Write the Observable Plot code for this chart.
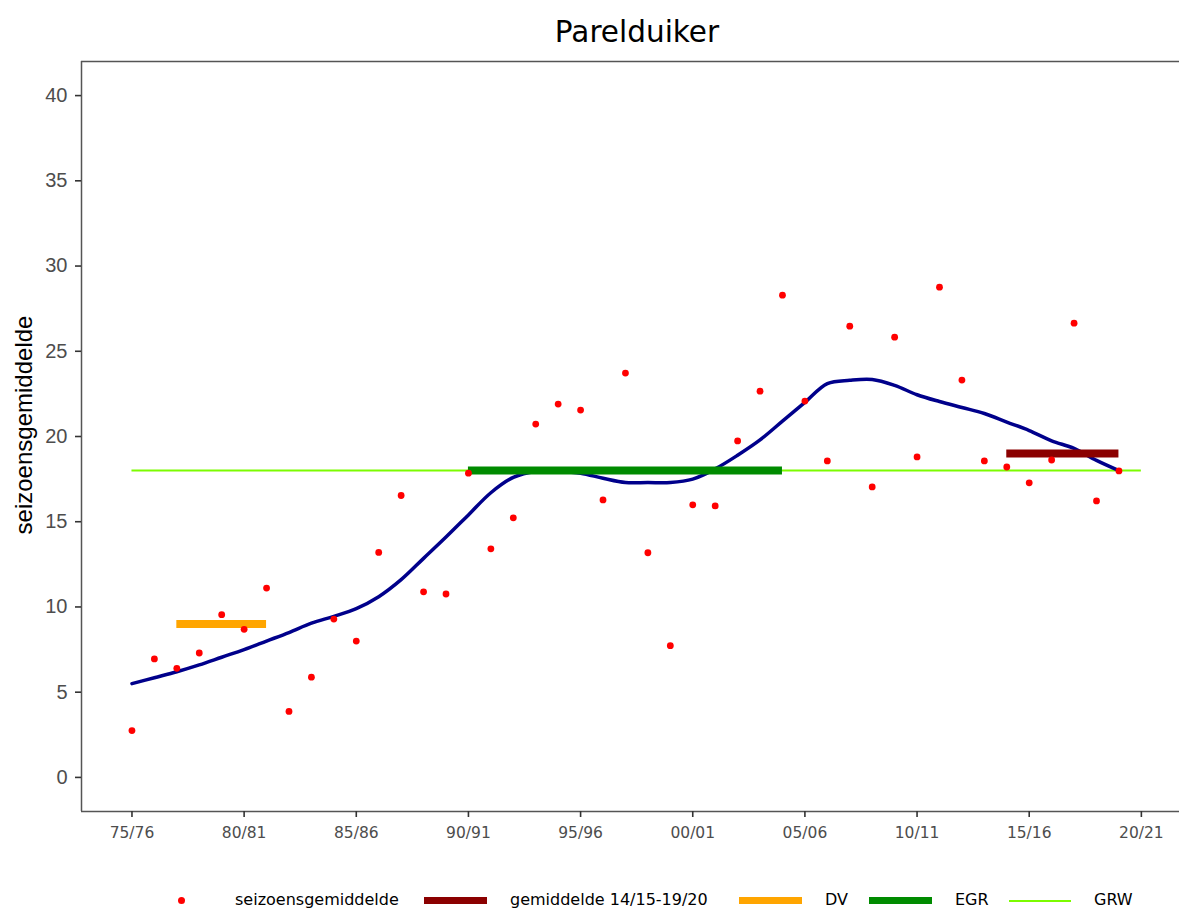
<!DOCTYPE html>
<html>
<head>
<meta charset="utf-8">
<script src="https://cdn.jsdelivr.net/npm/d3@7"></script>
<script src="https://cdn.jsdelivr.net/npm/@observablehq/plot@0.6"></script>
<style>
  html, body { margin: 0; padding: 0; background: #fff; }
  body { width: 1179px; height: 908px; overflow: hidden; position: relative; }
  #chart { position: absolute; left: 0; top: 0; }
  .dj { font-family: "DejaVu Sans", sans-serif; }
  #title { position: absolute; left: 0; top: 12.5px; width: 1274px; text-align: center; font-size: 29.5px; line-height: 38px; color: #000; }
  #ytitle { position: absolute; left: -126px; top: 410px; width: 300px; height: 30px; line-height: 30px; text-align: center;
            font-family: "Liberation Sans", Arial, sans-serif; font-size: 24px; color: #000; transform: rotate(-90deg); }
  .lg { position: absolute; }
  .lgtext { position: absolute; top: 889.5px; font-size: 16px; line-height: 20px; color: #000; white-space: nowrap; }
  g[aria-label="y-axis tick label"] text { fill: #4d4d4d; font-family: "Liberation Sans", Arial, sans-serif; font-size: 20px; }
  g[aria-label="x-axis tick label"] text { fill: #4d4d4d; font-family: "DejaVu Sans", sans-serif; font-size: 15.5px; }
  g[aria-label="y-axis tick"] path, g[aria-label="x-axis tick"] path { stroke: #333; stroke-width: 1.6; }
</style>
</head>
<body>
<div id="chart"></div>
<div id="title" class="dj">Parelduiker</div>
<div id="ytitle">seizoensgemiddelde</div>
<div id="legend"></div>
<script>
// ---- data ----
const seasons = ["75/76","76/77","77/78","78/79","79/80","80/81","81/82","82/83","83/84","84/85",
                 "85/86","86/87","87/88","88/89","89/90","90/91","91/92","92/93","93/94","94/95",
                 "95/96","96/97","97/98","98/99","99/00","00/01","01/02","02/03","03/04","04/05",
                 "05/06","06/07","07/08","08/09","09/10","10/11","11/12","12/13","13/14","14/15",
                 "15/16","16/17","17/18","18/19","19/20"];
const seasonValues = [2.75, 6.95, 6.40, 7.30, 9.55, 8.69, 11.11, 3.87, 5.88, 9.29,
                      8.00, 13.20, 16.54, 10.89, 10.76, 17.85, 13.41, 15.23, 20.73, 21.90,
                      21.55, 16.28, 23.72, 13.18, 7.73, 15.99, 15.93, 19.74, 22.66, 28.29,
                      22.08, 18.57, 26.47, 17.04, 25.83, 18.80, 28.76, 23.31, 18.57, 18.21,
                      17.28, 18.62, 26.65, 16.22, 17.98];
const smoothValues = [5.5, 5.85, 6.2, 6.6, 7.05, 7.5, 8.0, 8.5, 9.05, 9.45,
                      9.9, 10.6, 11.6, 12.85, 14.1, 15.4, 16.7, 17.6, 17.95, 17.95,
                      17.85, 17.55, 17.3, 17.3, 17.3, 17.5, 18.1, 18.9, 19.8, 20.9,
                      22.0, 23.1, 23.3, 23.35, 23.0, 22.45, 22.05, 21.7, 21.35, 20.85,
                      20.35, 19.75, 19.3, 18.6, 18.0];
const tickLabels = ["75/76","80/81","85/86","90/91","95/96","00/01","05/06","10/11","15/16","20/21"];
const tickSeasonIndex = [0, 5, 10, 15, 20, 25, 30, 35, 40, 45];
const yTicks = [0, 5, 10, 15, 20, 25, 30, 35, 40];

// reference periods (horizontal bars)
const barNames  = ["gemiddelde 14/15-19/20", "DV", "EGR"];
const barFrom   = ["14/15", "77/78", "90/91"];
const barTo     = ["19/20", "81/82", "04/05"];
const barLevel  = [19.0, 9.0, 18.0];
// reference line GRW
const grwLevel = 18.0;
const grwFromIndex = 0;
const grwToIndex = 45;

// ---- styles ----
const colors = {
  "seizoensgemiddelde": "#FF0000",
  "gemiddelde 14/15-19/20": "#8B0000",
  "DV": "#FFA500",
  "EGR": "#008B00",
  "GRW": "#7CFC00",
  "smooth": "#00008B"
};

const idx = seasons.map((s, i) => i);
const bars = barNames.map((n, i) => ({
  name: n,
  x1: seasons.indexOf(barFrom[i]),
  x2: seasons.indexOf(barTo[i]),
  y: barLevel[i]
}));

const plot = Plot.plot({
  width: 1179,
  height: 908,
  marginLeft: 81,
  marginRight: 0,
  marginTop: 61,
  marginBottom: 97,
  x: { domain: [-2.25, 46.7], axis: null },
  y: { domain: [-2, 42], axis: null },
  color: { type: "identity" },
  style: { background: "transparent", overflow: "visible" },
  marks: [
    Plot.ruleY([grwLevel], { x1: grwFromIndex, x2: grwToIndex, stroke: colors.GRW, strokeWidth: 2 }),
    Plot.line(idx, { x: i => i, y: i => smoothValues[i], stroke: colors.smooth, strokeWidth: 3.5, curve: "catmull-rom" }),
    Plot.ruleY(bars, { x1: "x1", x2: "x2", y: "y", stroke: d => colors[d.name], strokeWidth: 8 }),
    Plot.dot(idx, { x: i => i, y: i => seasonValues[i], r: 3.4, fill: colors.seizoensgemiddelde, stroke: "none" }),
    Plot.ruleY([42, -2], { stroke: "#555", strokeWidth: 1.5 }),
    Plot.ruleX([-2.25], { stroke: "#555", strokeWidth: 1.5 }),
    Plot.axisY(yTicks, { anchor: "left", tickSize: 6, tickPadding: 8, label: null }),
    Plot.axisX(tickSeasonIndex, { anchor: "bottom", tickSize: 6, tickPadding: 9, label: null,
      tickFormat: d => tickLabels[tickSeasonIndex.indexOf(d)] })
  ]
});
document.getElementById("chart").appendChild(plot);

// ---- legend ----
const legend = document.getElementById("legend");
function add(html) { legend.insertAdjacentHTML("beforeend", html); }
const legendItems = [
  { label: "seizoensgemiddelde", kind: "dot", sw: 181, tx: 235 },
  { label: "gemiddelde 14/15-19/20", kind: "bar", sw: 424, tx: 510 },
  { label: "DV", kind: "bar", sw: 739, tx: 825 },
  { label: "EGR", kind: "bar", sw: 869, tx: 955 },
  { label: "GRW", kind: "line", sw: 1009, tx: 1094 }
];
legendItems.forEach(it => {
  const c = colors[it.label];
  if (it.kind === "dot") {
    add(`<div class="lg" style="left:${it.sw - 3.5}px;top:896.5px;width:7px;height:7px;border-radius:50%;background:${c}"></div>`);
  } else if (it.kind === "bar") {
    add(`<div class="lg" style="left:${it.sw}px;top:897px;width:63px;height:7px;background:${c}"></div>`);
  } else {
    add(`<div class="lg" style="left:${it.sw}px;top:899.5px;width:62px;height:2px;background:${c}"></div>`);
  }
  add(`<div class="lgtext dj" style="left:${it.tx}px">${it.label}</div>`);
});
</script>
</body>
</html>
